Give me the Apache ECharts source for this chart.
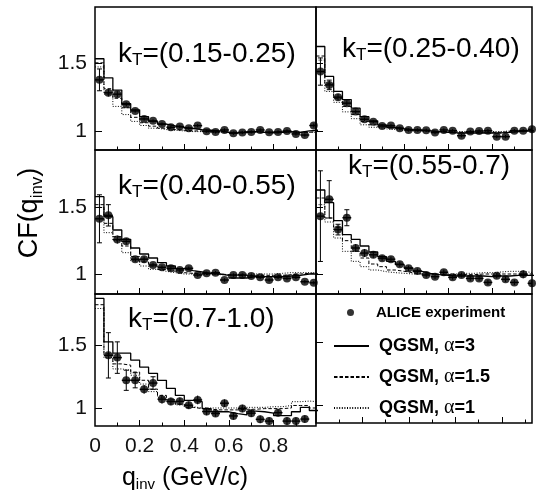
<!DOCTYPE html>
<html>
<head>
<meta charset="utf-8">
<script src="https://cdn.jsdelivr.net/npm/echarts@6/dist/echarts.min.js"></script>
<style>
  html, body { margin: 0; padding: 0; background: #fff; }
  #chart { width: 540px; height: 497px; }
</style>
</head>
<body>
<div id="chart"></div>
<script>
// bin centres of q_inv (GeV/c), bins are 0.04 wide
const qCenters = [0.02, 0.06, 0.10, 0.14, 0.18, 0.22, 0.26, 0.30, 0.34, 0.38, 0.42, 0.46, 0.50,
  0.54, 0.58, 0.62, 0.66, 0.70, 0.74, 0.78, 0.82, 0.86, 0.90, 0.94, 0.98];
const qHalf = 0.02;
const xLabelValues = [0, 0.2, 0.4, 0.6, 0.8];
const xMajorTicks = [0.2, 0.4, 0.6, 0.8];
const xMinorTicks = [0.1, 0.3, 0.5, 0.7, 0.9];
const yTickValues = [1, 1.5];
const ktRanges = ['(0.15-0.25)', '(0.25-0.40)', '(0.40-0.55)', '(0.55-0.7)', '(0.7-1.0)'];

// kT = 0.15-0.25
const alice1 = [1.375, 1.28, 1.27, 1.196, 1.147, 1.088, 1.074, 1.05, 1.027, 1.032, 1.02, 1.039, 0.998,
  0.993, 1.007, 0.983, 0.988, 0.993, 1.007, 0.99, 0.993, 1.0, 0.978, 0.97, 1.04];
const err1 = [0.08, 0.027, 0.022, 0.015, 0.013, 0.012, 0.012, 0.012, 0.012, 0.012, 0.012, 0.012, 0.012,
  0.012, 0.012, 0.012, 0.012, 0.012, 0.012, 0.012, 0.012, 0.012, 0.012, 0.012, 0.015];
const qgsm3_1 = [1.53, 1.39, 1.30, 1.20, 1.155, 1.105, 1.07, 1.05, 1.037, 1.026, 1.018, 1.01, 1.005,
  1.0, 0.99, 0.985, 0.99, 0.995, 0.99, 0.985, 0.99, 0.995, 0.99, 1.0, 1.005];
const qgsm15_1 = [1.50, 1.31, 1.24, 1.17, 1.10, 1.06, 1.035, 1.02, 1.01, 1.005, 1.0, 1.0, 0.995,
  0.995, 0.99, 0.99, 0.995, 0.995, 0.99, 0.99, 0.995, 0.995, 0.99, 0.99, 0.995];
const qgsm1_1 = [1.47, 1.27, 1.18, 1.12, 1.07, 1.04, 1.02, 1.01, 1.005, 1.0, 0.995, 0.995, 0.99,
  0.99, 0.99, 0.99, 0.99, 0.995, 0.99, 0.99, 0.99, 0.99, 0.99, 0.99, 0.99];

// kT = 0.25-0.40
const alice2 = [1.436, 1.338, 1.248, 1.204, 1.142, 1.086, 1.068, 1.037, 1.039, 1.02, 1.007, 1.007, 1.005,
  0.988, 1.007, 1.002, 0.965, 0.995, 1.0, 1.002, 0.958, 0.958, 1.002, 1.002, 1.012];
const err2 = [0.1, 0.035, 0.025, 0.02, 0.015, 0.013, 0.012, 0.012, 0.012, 0.012, 0.012, 0.012, 0.012,
  0.012, 0.012, 0.012, 0.012, 0.012, 0.012, 0.012, 0.012, 0.012, 0.012, 0.012, 0.012];
const qgsm3_2 = [1.62, 1.40, 1.29, 1.23, 1.167, 1.105, 1.074, 1.044, 1.027, 1.017, 1.01, 1.005, 1.0,
  0.995, 0.99, 0.985, 0.985, 0.985, 0.985, 0.985, 0.985, 0.99, 0.995, 1.0, 1.0];
const qgsm15_2 = [1.55, 1.35, 1.24, 1.18, 1.12, 1.07, 1.045, 1.03, 1.02, 1.01, 1.005, 1.0, 1.0,
  0.995, 0.995, 0.99, 0.99, 0.99, 0.99, 0.99, 0.99, 0.995, 0.995, 1.0, 1.0];
const qgsm1_2 = [1.52, 1.29, 1.21, 1.14, 1.09, 1.045, 1.027, 1.015, 1.01, 1.005, 1.0, 1.0, 0.995,
  0.995, 0.995, 0.995, 0.995, 0.995, 0.995, 0.995, 0.995, 1.0, 1.0, 1.0, 1.0];

// kT = 0.40-0.55
const alice3 = [1.414, 1.44, 1.258, 1.245, 1.111, 1.111, 1.068, 1.05, 1.043, 1.03, 1.043, 0.992, 1.005,
  1.01, 0.955, 0.992, 0.992, 0.985, 0.975, 0.955, 0.975, 0.967, 0.975, 0.942, 0.934];
const err3 = [0.18, 0.08, 0.03, 0.025, 0.02, 0.02, 0.015, 0.015, 0.013, 0.013, 0.013, 0.013, 0.013,
  0.013, 0.013, 0.013, 0.013, 0.013, 0.013, 0.013, 0.013, 0.013, 0.013, 0.013, 0.013];
const qgsm3_3 = [1.58, 1.43, 1.33, 1.26, 1.195, 1.15, 1.12, 1.085, 1.06, 1.04, 1.025, 1.015, 1.005,
  1.0, 0.99, 0.97, 0.97, 0.98, 0.98, 0.98, 0.98, 0.985, 0.99, 1.0, 1.0];
const qgsm15_3 = [1.52, 1.38, 1.28, 1.21, 1.13, 1.09, 1.06, 1.035, 1.02, 1.01, 1.005, 1.0, 1.0,
  1.0, 0.995, 0.99, 0.99, 0.99, 0.99, 0.99, 0.99, 0.995, 1.0, 1.005, 1.005];
const qgsm1_3 = [1.50, 1.31, 1.25, 1.16, 1.10, 1.06, 1.035, 1.02, 1.01, 1.0, 1.0, 0.995, 0.995,
  0.995, 0.995, 0.995, 1.0, 1.0, 1.0, 1.0, 1.005, 1.01, 1.01, 1.01, 1.01];

// kT = 0.55-0.7
const alice4 = [1.434, 1.56, 1.333, 1.422, 1.195, 1.157, 1.144, 1.119, 1.111, 1.073, 1.043, 1.023, 0.992,
  0.98, 1.013, 0.975, 0.992, 0.967, 0.967, 0.937, 0.987, 0.96, 0.937, 0.998, 0.93];
const err4 = [0.34, 0.14, 0.04, 0.06, 0.03, 0.03, 0.025, 0.02, 0.02, 0.02, 0.02, 0.018, 0.018,
  0.018, 0.02, 0.018, 0.018, 0.018, 0.018, 0.02, 0.02, 0.02, 0.02, 0.03, 0.02];
const qgsm3_4 = [1.63, 1.535, 1.40, 1.295, 1.26, 1.21, 1.165, 1.13, 1.095, 1.07, 1.045, 1.02, 1.005,
  0.995, 0.99, 0.985, 0.985, 0.985, 0.985, 0.98, 0.985, 0.985, 0.99, 0.99, 0.99];
const qgsm15_4 = [1.57, 1.42, 1.35, 1.25, 1.17, 1.12, 1.075, 1.055, 1.03, 1.02, 1.01, 1.0, 1.0,
  0.995, 0.995, 0.995, 0.995, 0.995, 1.0, 1.0, 1.0, 1.0, 1.0, 1.0, 1.0];
const qgsm1_4 = [1.52, 1.39, 1.27, 1.17, 1.095, 1.055, 1.03, 1.017, 1.01, 1.005, 1.0, 1.0, 1.0,
  1.0, 1.0, 1.0, 1.005, 1.005, 1.01, 1.01, 1.015, 1.02, 1.02, 1.015, 1.01];

// kT = 0.7-1.0
const alice5 = [null, 1.418, 1.40, 1.22, 1.22, 1.148, 1.198, 1.07, 1.052, 1.053, 1.022, 1.064, 0.972,
  0.956, 1.038, 0.937, 0.996, 0.959, 0.91, 0.896, 0.963, 0.896, 0.896, 0.912, null];
const err5 = [null, 0.18, 0.125, 0.08, 0.06, 0.035, 0.05, 0.035, 0.03, 0.03, 0.03, 0.035, 0.03,
  0.025, 0.03, 0.03, 0.03, 0.03, 0.03, 0.03, 0.03, 0.03, 0.03, 0.03, null];
const qgsm3_5 = [1.87, 1.525, 1.435, 1.435, 1.38, 1.325, 1.275, 1.22, 1.155, 1.10, 1.06, 1.05, 0.995,
  0.97, 0.97, 0.955, 0.945, 0.975, 0.97, 0.96, 0.94, 0.94, 0.97, 1.005, 0.98];
const qgsm15_5 = [1.82, 1.43, 1.35, 1.34, 1.285, 1.22, 1.15, 1.10, 1.065, 1.03, 1.005, 0.995, 0.99,
  0.985, 0.985, 0.985, 0.99, 0.99, 0.995, 0.995, 0.995, 1.0, 1.02, 1.02, 1.0];
const qgsm1_5 = [1.79, 1.40, 1.31, 1.30, 1.26, 1.19, 1.13, 1.085, 1.05, 1.025, 1.01, 1.0, 1.0,
  1.0, 1.0, 1.0, 1.005, 1.005, 1.005, 1.01, 1.01, 1.02, 1.05, 1.055, 1.05];

const FONT = 'Liberation Sans, Arial, Helvetica, sans-serif';
const NAME_DATA = 'ALICE experiment';
const NAME_A3 = 'QGSM, α=3';
const NAME_A15 = 'QGSM, α=1.5';
const NAME_A1 = 'QGSM, α=1';

// panel layout (pixels) and axis ranges; the sixth box holds the legend
const panels = [
  { left: 95, top: 7, width: 221, height: 143, xMax: 0.99, yMin: 0.86, yMax: 1.91, yLab: true, xLab: false,
    kx: 118, ky: 54, d: [alice1, err1, qgsm3_1, qgsm15_1, qgsm1_1] },
  { left: 316, top: 7, width: 216, height: 143, xMax: 0.98, yMin: 0.86, yMax: 1.91, yLab: false, xLab: false,
    kx: 342, ky: 49, d: [alice2, err2, qgsm3_2, qgsm15_2, qgsm1_2] },
  { left: 95, top: 150, width: 221, height: 144, xMax: 0.99, yMin: 0.85, yMax: 1.93, yLab: true, xLab: false,
    kx: 118, ky: 186, d: [alice3, err3, qgsm3_3, qgsm15_3, qgsm1_3] },
  { left: 316, top: 150, width: 216, height: 144, xMax: 0.98, yMin: 0.85, yMax: 1.93, yLab: false, xLab: false,
    kx: 348, ky: 166, d: [alice4, err4, qgsm3_4, qgsm15_4, qgsm1_4] },
  { left: 95, top: 294, width: 221, height: 132, xMax: 0.99, yMin: 0.857, yMax: 1.905, yLab: true, xLab: true,
    kx: 128, ky: 319, d: [alice5, err5, qgsm3_5, qgsm15_5, qgsm1_5] },
  { left: 316, top: 294, width: 216, height: 129, xMax: 0.93, yMin: 0.857, yMax: 1.881, yLab: false, xLab: false,
    d: null }
];

function histData(vals) {
  const pts = vals.map((v, i) => [qCenters[i] - qHalf, v]);
  const last = vals.length - 1;
  pts.push([qCenters[last] + qHalf, vals[last]]);
  return pts;
}

function pointData(vals, errs) {
  const out = [];
  vals.forEach((v, i) => {
    if (v !== null) out.push([qCenters[i], v, errs[i]]);
  });
  return out;
}

function renderErr(params, api) {
  const q = api.value(0), v = api.value(1), e = api.value(2);
  const c = api.coord([q, v]);
  const lo = api.coord([q, v - e]);
  const hi = api.coord([q, v + e]);
  const l = api.coord([q - qHalf, v]);
  const r = api.coord([q + qHalf, v]);
  const st = { stroke: '#000', lineWidth: 1 };
  const kids = [
    { type: 'line', shape: { x1: l[0], y1: c[1], x2: r[0], y2: c[1] }, style: { stroke: '#000', lineWidth: 1.4 } },
    { type: 'line', shape: { x1: c[0], y1: lo[1], x2: c[0], y2: hi[1] }, style: st }
  ];
  if (lo[1] - hi[1] > 9) {
    kids.push({ type: 'line', shape: { x1: c[0] - 2.5, y1: lo[1], x2: c[0] + 2.5, y2: lo[1] }, style: st });
    kids.push({ type: 'line', shape: { x1: c[0] - 2.5, y1: hi[1], x2: c[0] + 2.5, y2: hi[1] }, style: st });
  }
  return { type: 'group', children: kids };
}

const grids = [], xAxes = [], yAxes = [], series = [], graphics = [];

panels.forEach((p, i) => {
  grids.push({
    left: p.left, top: p.top, width: p.width, height: p.height,
    show: true, borderColor: '#000', borderWidth: 1.5, backgroundColor: 'transparent'
  });
  // main x axis: long ticks and labels
  xAxes.push({
    type: 'value', gridIndex: i, position: 'bottom', min: 0, max: p.xMax,
    axisLine: { show: false },
    splitLine: { show: false },
    axisTick: { show: true, inside: true, length: 6, customValues: xMajorTicks, lineStyle: { color: '#000', width: 1 } },
    axisLabel: {
      show: p.xLab, customValues: xLabelValues, margin: 10,
      fontSize: 21, fontFamily: FONT, color: '#111'
    }
  });
  // second x axis only for the short ticks
  xAxes.push({
    type: 'value', gridIndex: i, position: 'bottom', min: 0, max: p.xMax,
    axisLine: { show: false },
    splitLine: { show: false },
    axisTick: { show: true, inside: true, length: 3.5, customValues: xMinorTicks, lineStyle: { color: '#000', width: 1 } },
    axisLabel: { show: false }
  });
  yAxes.push({
    type: 'value', gridIndex: i, min: p.yMin, max: p.yMax,
    axisLine: { show: false },
    splitLine: { show: false },
    axisTick: { show: true, inside: true, length: 7, customValues: yTickValues, lineStyle: { color: '#000', width: 1 } },
    axisLabel: {
      show: p.yLab, customValues: yTickValues, margin: 8,
      fontSize: 21, fontFamily: FONT, color: '#111'
    }
  });

  if (!p.d) return;
  const [pts, errs, a3, a15, a1] = p.d;
  const common = { type: 'line', xAxisIndex: 2 * i, yAxisIndex: i, step: 'end', symbol: 'none', clip: true, silent: true };
  series.push(Object.assign({}, common, {
    name: NAME_A3, data: histData(a3), lineStyle: { color: '#000', width: 1.3, type: 'solid' }, itemStyle: { color: '#000' }
  }));
  series.push(Object.assign({}, common, {
    name: NAME_A15, data: histData(a15), lineStyle: { color: '#000', width: 1, type: [3.5, 2] }, itemStyle: { color: '#000' }
  }));
  series.push(Object.assign({}, common, {
    name: NAME_A1, data: histData(a1), lineStyle: { color: '#000', width: 1, type: [1, 1.6] }, itemStyle: { color: '#000' }
  }));
  const pd = pointData(pts, errs);
  series.push({
    type: 'custom', name: 'errors', xAxisIndex: 2 * i, yAxisIndex: i, clip: true, silent: true,
    renderItem: renderErr, data: pd, z: 3
  });
  series.push({
    type: 'scatter', name: NAME_DATA, xAxisIndex: 2 * i, yAxisIndex: i, clip: true, silent: true,
    symbol: 'circle', symbolSize: 8, itemStyle: { color: '#000' }, data: pd.map(d => [d[0], d[1]]), z: 4
  });

  graphics.push({
    type: 'text', x: p.kx, y: p.ky,
    style: {
      text: '{m|k}{s|T}{m|=' + ktRanges[i] + '}',
      align: 'left', verticalAlign: 'middle',
      rich: {
        m: { fontSize: 28, fontFamily: FONT, fill: '#000', lineHeight: 30 },
        s: { fontSize: 17, fontFamily: FONT, fill: '#000', lineHeight: 18, verticalAlign: 'bottom' }
      }
    }
  });
});

// axis titles
graphics.push({
  type: 'text', x: 30, y: 213, rotation: Math.PI / 2,
  style: {
    text: '{m|CF(q}{s|inv}{m|)}', align: 'center', verticalAlign: 'middle',
    rich: {
      m: { fontSize: 27, fontFamily: FONT, fill: '#000', lineHeight: 32 },
      s: { fontSize: 17, fontFamily: FONT, fill: '#000', lineHeight: 16, verticalAlign: 'bottom' }
    }
  }
});
graphics.push({
  type: 'text', x: 185, y: 478,
  style: {
    text: '{m|q}{s|inv}{m| (GeV/c)}', align: 'center', verticalAlign: 'middle',
    rich: {
      m: { fontSize: 25, fontFamily: FONT, fill: '#000', lineHeight: 28 },
      s: { fontSize: 15, fontFamily: FONT, fill: '#000', lineHeight: 14, verticalAlign: 'bottom' }
    }
  }
});

const legendRich = {
  b: { fontSize: 18, fontWeight: 'bold', fontFamily: FONT, color: '#000', padding: [0, 0, 0, 5] },
  g: { fontSize: 20, fontFamily: 'Liberation Serif, DejaVu Serif, serif', color: '#000' },
  e: { fontSize: 18, fontWeight: 'bold', fontFamily: FONT, color: '#000' }
};

const option = {
  animation: false,
  backgroundColor: '#fff',
  grid: grids,
  xAxis: xAxes,
  yAxis: yAxes,
  legend: [
    {
      // the group is placed by the dot's own box, so left is the dot's left edge
      data: [NAME_DATA], left: 347, top: 305, orient: 'vertical', padding: 0,
      icon: 'circle', itemWidth: 35, itemHeight: 7, selectedMode: false,
      textStyle: { fontSize: 15, fontWeight: 'bold', fontFamily: FONT, color: '#000', padding: [0, 0, 0, 3] }
    },
    {
      data: [NAME_A3, NAME_A15, NAME_A1], left: 333, top: 336, orient: 'vertical', padding: 0,
      itemWidth: 35, itemHeight: 14, itemGap: 11, selectedMode: false,
      itemStyle: { color: 'rgba(0,0,0,0)', borderWidth: 0, opacity: 0 },
      formatter: function (name) {
        const parts = name.split('α');
        return '{b|' + parts[0] + '}{g|α}{e|' + parts[1] + '}';
      },
      textStyle: { rich: legendRich }
    }
  ],
  graphic: graphics,
  series: series
};

const chart = echarts.init(document.getElementById('chart'));
chart.setOption(option);
</script>
</body>
</html>
